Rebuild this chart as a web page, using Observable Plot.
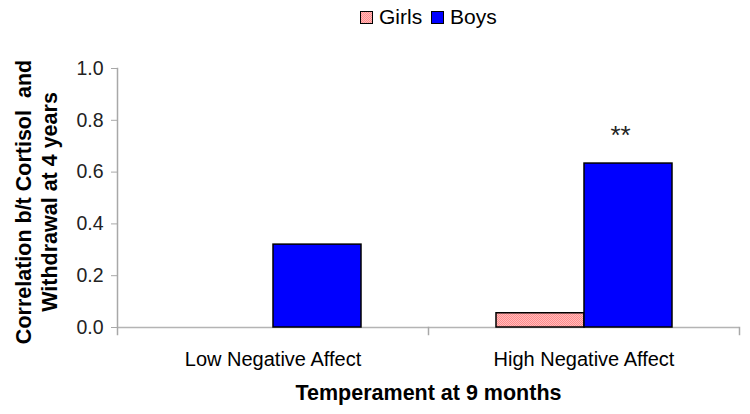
<!DOCTYPE html>
<html><head><meta charset="utf-8">
<script src="https://cdn.jsdelivr.net/npm/d3@7"></script>
<script src="https://cdn.jsdelivr.net/npm/@observablehq/plot@0.6"></script>
<style>
body{margin:0;background:#fff;font-family:"Liberation Sans",Arial,sans-serif;}
#legend{height:36px;position:relative;width:750px;}
.item{position:absolute;top:0;height:34px;display:flex;align-items:center;font-size:21px;color:#000;}
.sw{width:11px;height:11px;border:1px solid #000;margin-right:6px;box-sizing:content-box;}
</style></head><body>
<div id="legend"></div>
<div id="chart"></div>
<script>
const groups = ["Low Negative Affect", "High Negative Affect"];
const series = ["Girls", "Boys"];
const girls = [0, 0.055];
const boys = [0.32, 0.633];
const sigLabels = ["", "**"];
const yTicks = [0, 0.2, 0.4, 0.6, 0.8, 1.0];
const yTitle = "Correlation b/t Cortisol  and\nWithdrawal at 4 years";
const xTitle = "Temperament at 9 months";

const values = {Girls: girls, Boys: boys};
const rows = groups.flatMap((g, i) => series.map(s => ({group: g, sex: s, value: values[s][i]})));
const sig = groups.map((g, i) => ({group: g, sex: "Boys", value: boys[i], label: sigLabels[i]})).filter(d => d.label);

const legendColors = {Girls: "#ff9f9f", Boys: "#0000ff"};
const legendLeft = {Girls: 360, Boys: 431};
const legend = document.getElementById("legend");
series.forEach(s => {
  const it = document.createElement("div");
  it.className = "item";
  it.style.left = legendLeft[s] + "px";
  const sw = document.createElement("div");
  sw.className = "sw";
  sw.style.background = s === "Girls"
    ? "repeating-conic-gradient(#ff8a8a 0% 25%, #ffbcbc 0% 50%) 0 0/2px 2px"
    : legendColors[s];
  it.appendChild(sw);
  it.appendChild(document.createTextNode(s));
  legend.appendChild(it);
});

const frameH = 259;
const svg = Plot.plot({
  width: 750,
  height: 378,
  marginTop: 32,
  marginBottom: 87,
  marginLeft: 116,
  marginRight: 11,
  style: {fontFamily: '"Liberation Sans", Arial, sans-serif', fontSize: "19px", color: "#000", background: "#fff"},
  fx: {domain: groups, padding: 0},
  x: {domain: series, paddingInner: 0, paddingOuter: 0.76, axis: null},
  y: {domain: [0, 1]},
  color: {domain: series, range: ["url(#girlsPat)", "#0000ff"]},
  marks: [
    Plot.ruleY([0], {stroke: "#b4b4b4", strokeWidth: 1.5}),
    Plot.frame({anchor: "left", stroke: "#a8a8a8", strokeWidth: 1.5, facetAnchor: "left", insetBottom: -7}),
    Plot.frame({anchor: "right", stroke: "#a8a8a8", strokeWidth: 1.5, insetTop: frameH, insetBottom: -7}),
    Plot.barY(rows, {fx: "group", x: "sex", y: "value", fill: "sex", stroke: "#000", strokeWidth: 1.5, filter: d => d.value !== 0}),
    Plot.text(sig, {fx: "group", x: "sex", y: "value", text: "label", dy: -28, dx: -8, fontSize: 26, fill: "#222"}),
    Plot.axisY({ticks: yTicks, tickFormat: ".1f", tickSize: 6, tickPadding: 8, fontSize: 19.5, label: null, stroke: "#a8a8a8", fill: "#222"}),
    Plot.axisFx({anchor: "bottom", tickSize: 0, tickPadding: 24, fontSize: 20, label: null, fill: "#000"}),
    Plot.text([yTitle], {frameAnchor: "left", textAnchor: "middle", rotate: -90, dx: -82, dy: 4, lineHeight: 1.2, fontSize: 21.5, fontWeight: "bold", facet: "super", fill: "#000"}),
    Plot.text([xTitle], {frameAnchor: "bottom", dy: 72, fontSize: 21.5, fontWeight: "bold", facet: "super", fill: "#000"})
  ]
});
const ns = "http://www.w3.org/2000/svg";
const defs = document.createElementNS(ns, "defs");
defs.innerHTML = '<pattern id="girlsPat" width="2" height="2" patternUnits="userSpaceOnUse"><rect width="2" height="2" fill="#ffbcbc"/><rect width="1" height="1" fill="#ff8a8a"/><rect x="1" y="1" width="1" height="1" fill="#ff8a8a"/></pattern>';
svg.insertBefore(defs, svg.firstChild);
document.getElementById("chart").appendChild(svg);
</script>
</body></html>
